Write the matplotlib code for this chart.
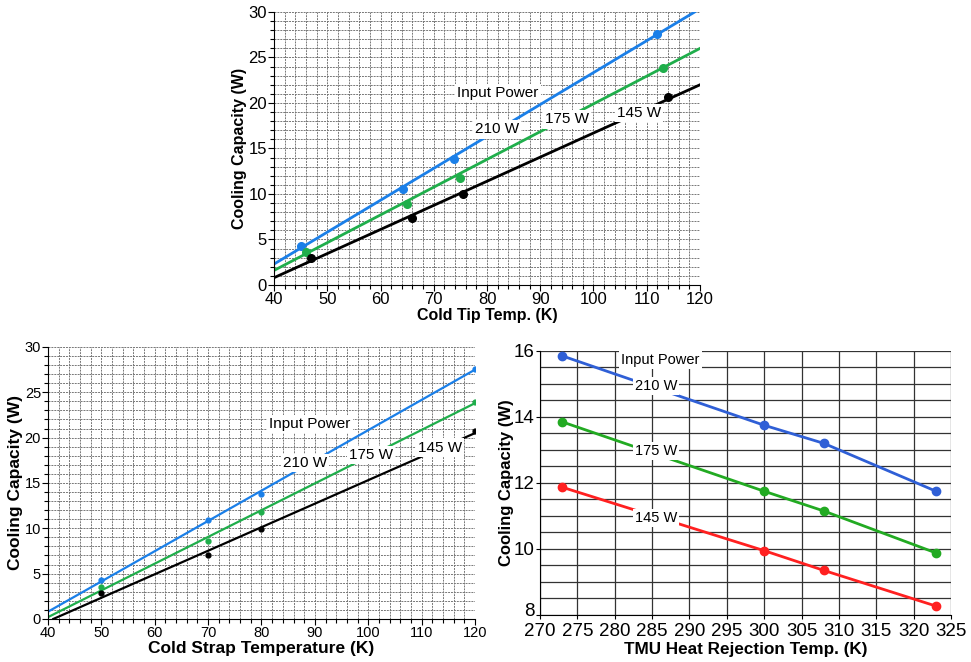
import numpy as np
import matplotlib.pyplot as plt
import matplotlib.transforms as mtransforms

plt.rcParams["font.family"] = ["Liberation Sans", "DejaVu Sans"]

powers = ["210 W", "175 W", "145 W"]

# top: cold tip temp
tip_x = [[45, 64.2, 73.8, 112], [46, 65, 75, 113], [47, 66, 75.5, 114]]
tip_y = [[4.3, 10.6, 13.8, 27.6], [3.6, 8.9, 11.8, 23.8], [3.0, 7.4, 10.0, 20.7]]
tip_fit_x = [[40, 119], [40, 120], [40, 120]]
tip_fit_y = [[2.3, 30.0], [1.6, 26.0], [0.8, 22.0]]

# bottom left: cold strap temp
strap_x = [50, 70, 80, 120]
strap_y = [[4.3, 10.9, 13.8, 27.6], [3.5, 8.6, 11.8, 23.9], [2.9, 7.0, 9.9, 20.7]]
strap_fit_x = [[40, 120], [40, 120], [41, 120]]
strap_fit_y = [[0.8, 27.5], [0.2, 23.8], [0.0, 20.5]]

# bottom right: TMU heat rejection temp
tmu_x = [273, 300, 308, 323]
tmu_y = [[15.85, 13.75, 13.2, 11.75], [13.85, 11.75, 11.15, 9.88], [11.87, 9.95, 9.35, 8.27]]

fig = plt.figure(figsize=(9.71, 6.62), dpi=100)

box = dict(facecolor="white", edgecolor="none", pad=1.5)


def paper(ax, xmin, xmax, ymin, ymax, xlab, fs_tick, fs_lab):
    ax.set_xlim(xmin, xmax)
    ax.set_ylim(ymin, ymax)
    ax.set_xticks(np.arange(xmin, xmax + 1, 10))
    ax.set_yticks(np.arange(ymin, ymax + 1, 5))
    ax.set_xticks(np.arange(xmin, xmax + 1, 2), minor=True)
    ax.set_yticks(np.arange(ymin, ymax + 1, 1), minor=True)
    ax.grid(True, which="both", color="#777777", lw=0.7, ls=(0, (2, 1)))
    ax.set_axisbelow(True)
    ax.tick_params(which="both", direction="out", length=3, width=0.8, labelsize=fs_tick, pad=1)
    ax.tick_params(which="major", length=4)
    ax.spines["top"].set_visible(False)
    ax.spines["right"].set_visible(False)
    ax.set_xlabel(xlab, fontsize=fs_lab, fontweight="bold", labelpad=1)
    ax.set_ylabel("Cooling Capacity (W)", fontsize=fs_lab, fontweight="bold", labelpad=1)


# top panel
ax1 = fig.add_axes([0.2822, 0.5695, 0.4387, 0.4124])
paper(ax1, 40, 120, 0, 30, "Cold Tip Temp. (K)", 12, 11.5)
cols1 = ["#1a7fe8", "#1fae4b", "black"]
for i in range(3):
    ax1.plot(tip_fit_x[i], tip_fit_y[i], color=cols1[i], lw=2, zorder=2)
    ax1.plot(tip_x[i], tip_y[i], "o", color=cols1[i], ms=5.5, zorder=3)
ax1.text(82.1, 21.1, "Input Power", fontsize=11, ha="center", va="center", bbox=box, zorder=4)
for lab, (x, y) in zip(powers, [(81.9, 17.1), (95.0, 18.2), (108.5, 18.9)]):
    ax1.text(x, y, lab, fontsize=11, ha="center", va="center", bbox=box, zorder=4)

# bottom left panel
ax2 = fig.add_axes([0.0494, 0.0650, 0.4398, 0.4109])
paper(ax2, 40, 120, 0, 30, "Cold Strap Temperature (K)", 10.5, 12.5)
for i in range(3):
    ax2.plot(strap_fit_x[i], strap_fit_y[i], color=cols1[i], lw=1.6, zorder=2)
    ax2.plot(strap_x, strap_y[i], "o", color=cols1[i], ms=3.5, zorder=3)
ax2.text(89.1, 21.5, "Input Power", fontsize=11, ha="center", va="center", bbox=box, zorder=4)
for lab, (x, y) in zip(powers, [(88.1, 17.2), (100.5, 18.1), (113.4, 18.9)]):
    ax2.text(x, y, lab, fontsize=11, ha="center", va="center", bbox=box, zorder=4)

# bottom right panel
ax3 = fig.add_axes([0.5561, 0.0710, 0.4233, 0.3988])
ax3.set_xlim(270, 325)
ax3.set_ylim(8, 16)
ax3.set_xticks(np.arange(270, 326, 5))
ax3.set_yticks(np.arange(8, 17, 2))
ax3.set_yticks(np.arange(8, 16.1, 0.5), minor=True)
ax3.grid(True, which="both", color="#333333", lw=0.9)
ax3.set_axisbelow(True)
ax3.tick_params(which="both", direction="out", length=3, labelsize=13.5, pad=1)
ax3.tick_params(axis="x", pad=3)
ax3.tick_params(which="minor", length=0)
ax3.spines["top"].set_visible(False)
ax3.spines["right"].set_visible(False)
ax3.set_xlabel("TMU Heat Rejection Temp. (K)", fontsize=12.3, fontweight="bold", labelpad=1)
ax3.set_ylabel("Cooling Capacity (W)", fontsize=12, fontweight="bold", labelpad=0)
# nudge the lowest y label up so it clears the "270"
shift = mtransforms.ScaledTranslation(0, 4 / 72, fig.dpi_scale_trans)
lbl8 = ax3.get_yticklabels()[0]
lbl8.set_transform(lbl8.get_transform() + shift)
cols3 = ["#2f5fd6", "#22aa22", "#ff2020"]
for i in range(3):
    ax3.plot(tmu_x, tmu_y[i], "o-", color=cols3[i], lw=2, ms=6, zorder=2)
ax3.text(286.1, 15.73, "Input Power", fontsize=10.5, ha="center", va="center", bbox=box, zorder=4)
for lab, y in zip(powers, [14.94, 12.97, 10.94]):
    ax3.text(285.5, y, lab, fontsize=10.5, ha="center", va="center", bbox=box, zorder=4)

fig.savefig("out.png", dpi=100)
